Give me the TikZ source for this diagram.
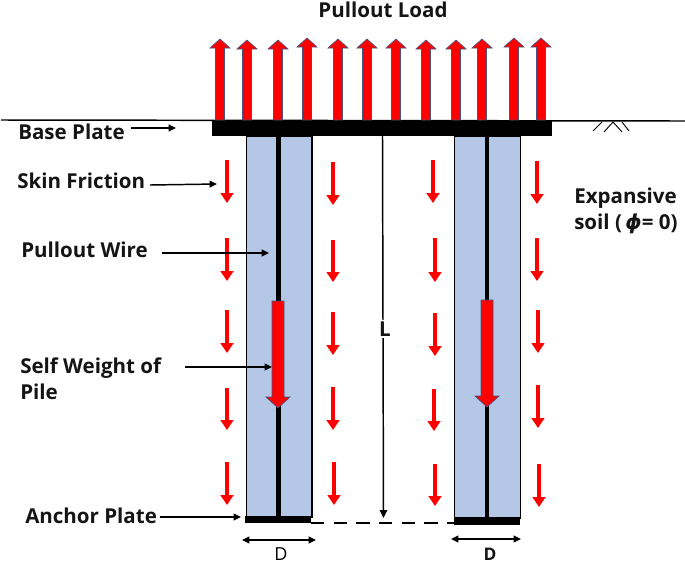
\documentclass[tikz,border=0pt]{standalone}
\usepackage{fontspec}
\setmainfont{Open Sans}
\newfontfamily\phifont{DejaVu Sans}
\usetikzlibrary{arrows.meta}
\definecolor{pilefill}{RGB}{180,199,231}
\definecolor{arrowedge}{RGB}{68,84,126}
\newcommand{\uparr}[3]{% x, tip y, base y
  \path[loadarrow] (#1-4.5,#3) -- (#1-4.5,#2+9) -- (#1-10,#2+9) -- (#1,#2) -- (#1+10,#2+9) -- (#1+4.5,#2+9) -- (#1+4.5,#3) -- cycle;}
\newcommand{\bigdown}[3]{% x, top y, tip y
  \path[loadarrow] (#1-6,#2) -- (#1-6,#3-11) -- (#1-12,#3-11) -- (#1,#3) -- (#1+12,#3-11) -- (#1+6,#3-11) -- (#1+6,#2) -- cycle;}
\begin{document}
\begin{tikzpicture}[x=0.75pt,y=-0.75pt,
  lbl/.style={font=\bfseries\fontsize{15.4pt}{19.5pt}\selectfont,inner sep=0pt,anchor=west,text=black!92},
  callout/.style={line width=1.1pt,-{Triangle[length=5.5pt,width=5pt]},black},
  friction/.style={line width=2.9pt,red,-{Triangle[length=7.5pt,width=9.5pt]}},
  loadarrow/.style={fill=red,draw=arrowedge,line width=0.5pt},
  pile/.style={fill=pilefill,draw=black,line width=1.3pt},
  plate/.style={fill=black,draw=none},
  wire/.style={line width=3.2pt,black},
  dimarrow/.style={line width=1.1pt,{Triangle[length=5.5pt,width=5pt]}-{Triangle[length=5.5pt,width=5pt]},black},
  soilmark/.style={line width=0.7pt,black}]
\useasboundingbox (0,0) rectangle (685,565);
% ground
\coordinate (gl) at (1,120);
\coordinate (gr) at (685,121);
\draw[line width=1.1pt] (gl) -- (gr);
\draw[soilmark] (593,131) -- (602,122);
\draw[soilmark] (604,132) -- (613,122) -- (622,132);
\draw[soilmark] (622,122) -- (629,131);
% piles
\node[pile,minimum width=65.5*0.75pt,minimum height=381*0.75pt,inner sep=0pt,anchor=north west] (pileL) at (245.5,135) {};
\node[pile,minimum width=66*0.75pt,minimum height=382*0.75pt,inner sep=0pt,anchor=north west] (pileR) at (453.5,135) {};
% plates
\node[plate,minimum width=340*0.75pt,minimum height=16*0.75pt,inner sep=0pt,anchor=north west] (base) at (212,120) {};
\node[plate,minimum width=66*0.75pt,minimum height=7*0.75pt,inner sep=0pt,anchor=north west] (anchorL) at (245,516) {};
\node[plate,minimum width=66*0.75pt,minimum height=8*0.75pt,inner sep=0pt,anchor=north west] (anchorR) at (454,517) {};
% wires
\draw[wire] (278.5,135) -- (278.5,517);
\draw[wire] (487,135) -- (487,518);
% dashed
\draw[line width=1.2pt,dash pattern=on 10pt off 7pt] (311,523) -- (454,523);
% L dimension
\coordinate (Ltop) at (382.5,135);
\coordinate (Lbot) at (383.5,518);
\draw[line width=1.1pt,-{Triangle[length=6pt,width=5.5pt]}] (Ltop) -- (Lbot);
\node[lbl,fill=white,anchor=center,inner sep=1pt] (Llabel) at (385,329) {L};
% up arrows
\uparr{220}{39}{120}\uparr{247}{40}{120}\uparr{278}{40}{120}\uparr{307}{38}{120}
\uparr{338}{39}{120}\uparr{367}{39}{120}\uparr{396}{39}{120}\uparr{426}{40}{120}
\uparr{456}{40}{120}\uparr{482}{39}{120}\uparr{514}{38}{120}\uparr{541}{38}{120}
% big arrows
\bigdown{278}{301}{408}
\bigdown{487}{300}{407}
% friction
\foreach \x/\a/\b in {227/160/203,227/238/281,227/310/353,227/388/430,227/462/505,
 333/162/205,333/240/282,333/312/355,333/387/430,334/462/505,
 433/160/203,435/238/282,435/313/356,434/389/431,435/464/506,
 537/161/204,537/238/281,538/310/353,538/385/428,539/464/507}
  \draw[friction] (\x,\a) -- (\x,\b);
% labels
\node[lbl,anchor=center] (load) at (383,10) {Pullout Load};
\node[lbl] (bp) at (18,132) {Base Plate};
\node[lbl] (sf) at (17,181) {Skin Friction};
\node[lbl] (pw) at (21,250) {Pullout Wire};
\node[lbl,align=left] (sw) at (20,379) {Self Weight of\\Pile};
\node[lbl] (ap) at (25,516) {Anchor Plate};
\node[lbl,align=left] (soil) at (574,211) {Expansive\\soil ({\phifont\bfseries\itshape\,ϕ}= 0)};
\node[font=\fontsize{13.5pt}{15pt}\selectfont,inner sep=0pt] (dl) at (281,554) {D};
\node[lbl,font=\bfseries\fontsize{13pt}{15pt}\selectfont,anchor=center] (dr) at (490,554) {D};
% callouts
\coordinate (bpE) at (176,128); \coordinate (sfE) at (217,184);
\coordinate (pwE) at (269,253); \coordinate (swE) at (272,367);
\coordinate (apE) at (241,517);
\coordinate (bpS) at (131,128); \coordinate (sfS) at (150,185);
\coordinate (pwS) at (162,253); \coordinate (swS) at (185,367);
\coordinate (apS) at (160,517);
\draw[callout] (bpS) -- (bpE);
\draw[callout] (sfS) -- (sfE);
\draw[callout] (pwS) -- (pwE);
\draw[callout] (swS) -- (swE);
\draw[callout] (apS) -- (apE);
% D dimensions
\coordinate (dl1) at (242,540); \coordinate (dl2) at (316,540);
\coordinate (dr1) at (451,539); \coordinate (dr2) at (521,539);
\draw[dimarrow] (dl1) -- (dl2);
\draw[dimarrow] (dr1) -- (dr2);
\end{tikzpicture}
\end{document}
